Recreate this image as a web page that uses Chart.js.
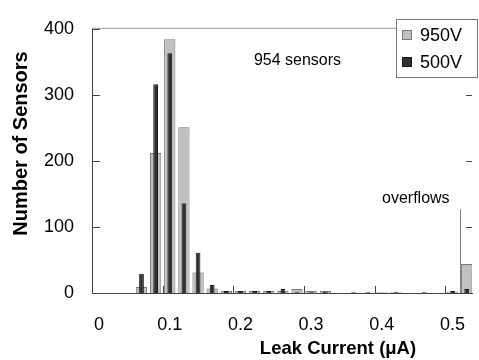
<!DOCTYPE html>
<html>
<head>
<meta charset="utf-8">
<script src="https://cdn.jsdelivr.net/npm/chart.js@4.4.0/dist/chart.umd.min.js"></script>
<style>
  html, body { margin: 0; padding: 0; background: #fff; }
</style>
</head>
<body>
<canvas id="leak" width="479" height="360"></canvas>
<script>
// histogram bins, 0.02 uA wide; the last bin collects the overflows
const binCenters = [0.01, 0.03, 0.05, 0.07, 0.09, 0.11, 0.13, 0.15, 0.17, 0.19,
                    0.21, 0.23, 0.25, 0.27, 0.29, 0.31, 0.33, 0.35, 0.37, 0.39,
                    0.41, 0.43, 0.45, 0.47, 0.49, 0.51, 0.53];
const counts950 = [0, 0, 0, 9, 212, 384, 251, 31, 7, 3,
                   3, 3, 3, 3, 6, 3, 3, 0, 0, 0,
                   1, 1, 0, 0, 0, 2, 44];
const counts500 = [0, 0, 0, 29, 316, 363, 136, 61, 12, 3,
                   3, 3, 3, 6, 1, 1, 2, 0, 1, 1,
                   0, 1, 0, 1, 0, 3, 6];
const seriesNames = ['950V', '500V'];
const xTicks = [0, 0.1, 0.2, 0.3, 0.4, 0.5];
const yTicks = [0, 100, 200, 300, 400];
const overflowStart = 0.52;

const FONT = "'Liberation Sans', Arial, Helvetica, sans-serif";
const GRAY = '#c0c0c0', GRAY_EDGE = '#7a7a7a';
const DARK = '#303030', DARK_EDGE = '#1c1c1c';

Chart.defaults.font.family = FONT;
Chart.defaults.color = '#000';

const toPoints = counts => binCenters.map((c, i) => ({ x: c, y: counts[i] }));

// inward tick marks, top frame line and overflow divider
const frame = {
  id: 'frame',
  beforeDatasetsDraw(chart) {
    const { ctx, chartArea: a, scales: { x, y } } = chart;
    ctx.save();
    ctx.lineWidth = 1;
    ctx.strokeStyle = '#9a9a9a';
    ctx.beginPath();
    ctx.moveTo(a.left, a.top - 0.5);
    ctx.lineTo(a.right, a.top - 0.5);
    ctx.stroke();

    ctx.strokeStyle = '#444';
    ctx.beginPath();
    yTicks.forEach(v => {
      const py = Math.round(y.getPixelForValue(v)) + 0.5;
      ctx.moveTo(a.left, py); ctx.lineTo(a.left + 8, py);
      ctx.moveTo(a.right - 6, py); ctx.lineTo(a.right, py);
    });
    xTicks.forEach(v => {
      const px = Math.round(x.getPixelForValue(v)) + 0.5;
      ctx.moveTo(px, a.bottom); ctx.lineTo(px, a.bottom - 7);
    });
    ctx.stroke();
    ctx.restore();
  },
  afterDatasetsDraw(chart) {
    const { ctx, scales: { x, y } } = chart;
    const px = Math.round(x.getPixelForValue(overflowStart)) + 0.5;
    ctx.save();
    ctx.strokeStyle = '#808080';
    ctx.lineWidth = 1;
    ctx.beginPath();
    ctx.moveTo(px, y.getPixelForValue(0));
    ctx.lineTo(px, y.getPixelForValue(127));
    ctx.stroke();
    ctx.restore();
  }
};

// axis titles, notes and the boxed legend
const labels = {
  id: 'labels',
  afterDraw(chart) {
    const { ctx, scales: { x, y } } = chart;
    ctx.save();
    ctx.fillStyle = '#000';

    ctx.font = 'bold 18.5px ' + FONT;
    ctx.textAlign = 'center';
    ctx.textBaseline = 'middle';
    ctx.fillText('Leak Current (\u03bcA)', 338, 349);

    ctx.save();
    ctx.translate(21, 143.5);
    ctx.rotate(-Math.PI / 2);
    ctx.font = 'bold 20px ' + FONT;
    ctx.fillText('Number of Sensors', 0, 0);
    ctx.restore();

    ctx.font = '16px ' + FONT;
    ctx.textAlign = 'left';
    ctx.fillText('954 sensors', x.getPixelForValue(0.229), y.getPixelForValue(352));
    ctx.textAlign = 'center';
    ctx.fillText('overflows', x.getPixelForValue(0.458), y.getPixelForValue(143));

    // legend
    ctx.fillStyle = '#fff';
    ctx.fillRect(396, 19, 83, 58);
    ctx.strokeStyle = '#777';
    ctx.strokeRect(396.5, 19.5, 81, 58);
    const swatches = [[GRAY, GRAY_EDGE], [DARK, DARK_EDGE]];
    seriesNames.forEach((name, i) => {
      const cy = 35 + i * 27;
      ctx.fillStyle = swatches[i][0];
      ctx.fillRect(402, cy - 5, 10, 10);
      ctx.strokeStyle = swatches[i][1];
      ctx.strokeRect(402.5, cy - 4.5, 9, 9);
      ctx.fillStyle = '#000';
      ctx.font = '18px ' + FONT;
      ctx.textAlign = 'left';
      ctx.fillText(name, 420, cy + 1);
    });
    ctx.restore();
  }
};

new Chart(document.getElementById('leak'), {
  type: 'bar',
  data: {
    datasets: [
      {
        label: seriesNames[0],
        data: toPoints(counts950),
        backgroundColor: GRAY,
        borderColor: GRAY_EDGE,
        borderWidth: 1,
        barPercentage: 1.0,
        grouped: false,
        order: 2
      },
      {
        label: seriesNames[1],
        data: toPoints(counts500),
        backgroundColor: DARK,
        borderColor: DARK_EDGE,
        borderWidth: 1,
        barPercentage: 0.42,
        grouped: false,
        order: 1
      }
    ]
  },
  options: {
    responsive: false,
    animation: false,
    layout: { padding: { top: 13, right: 0, left: 0, bottom: 0 } },
    plugins: {
      legend: { display: false },
      tooltip: { enabled: false }
    },
    scales: {
      x: {
        type: 'linear',
        min: 0,
        max: 0.5375,
        offset: false,
        grid: { display: false, drawTicks: false },
        border: { display: true, color: '#444', width: 1 },
        afterBuildTicks: s => { s.ticks = xTicks.map(v => ({ value: v })); },
        afterFit: s => { s.height = 67; },
        ticks: {
          font: { size: 18 },
          padding: 21,
          labelOffset: 7,
          maxRotation: 0,
          callback: v => String(v)
        }
      },
      y: {
        min: 0,
        max: 400,
        grid: { display: false, drawTicks: false },
        border: { display: true, color: '#444', width: 1 },
        afterBuildTicks: s => { s.ticks = yTicks.map(v => ({ value: v })); },
        afterFit: s => { s.width = 92; },
        ticks: {
          font: { size: 18 },
          padding: 18
        }
      }
    }
  },
  plugins: [frame, labels]
});
</script>
</body>
</html>
